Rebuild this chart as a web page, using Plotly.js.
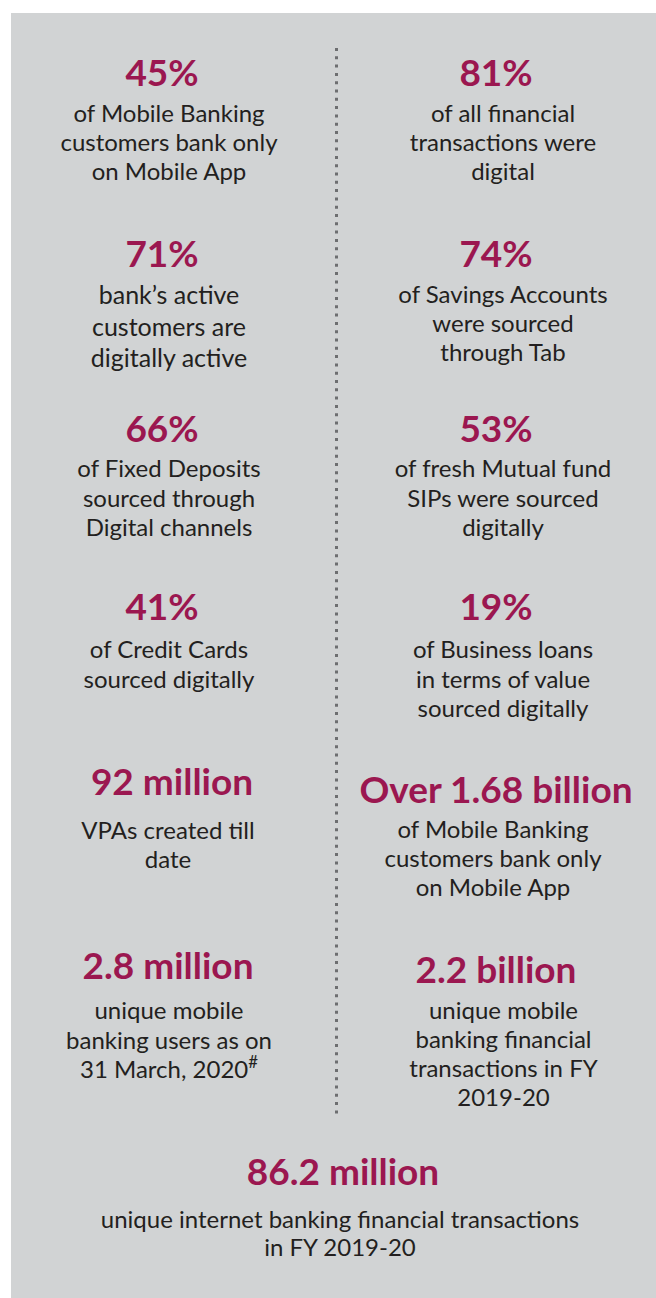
<!DOCTYPE html>
<html>
<head>
<meta charset="utf-8">
<script src="https://cdn.plot.ly/plotly-3.0.1.min.js"></script>
<style>
  html, body { margin: 0; padding: 0; background: #fff; }
  #chart { width: 656px; height: 1298px; }
</style>
</head>
<body>
<div id="chart"></div>
<script>
// headline figures and their notes (one entry per printed line)
const leftFigures = ['45%', '71%', '66%', '41%', '92 million', '2.8 million'];
const leftNotes = [
  ['of Mobile Banking', 'customers bank only', 'on Mobile App'],
  ['bank’s active', 'customers are', 'digitally active'],
  ['of Fixed Deposits', 'sourced through', 'Digital channels'],
  ['of Credit Cards', 'sourced digitally'],
  ['VPAs created till', 'date'],
  ['unique mobile', 'banking users as on', '31 March, 2020<sup>#</sup>']
];
const rightFigures = ['81%', '74%', '53%', '19%', 'Over 1.68 billion', '2.2 billion'];
const rightNotes = [
  ['of all financial', 'transactions were', 'digital'],
  ['of Savings Accounts', 'were sourced', 'through Tab'],
  ['of fresh Mutual fund', 'SIPs were sourced', 'digitally'],
  ['of Business loans', 'in terms of value', 'sourced digitally'],
  ['of Mobile Banking', 'customers bank only', 'on Mobile App'],
  ['unique mobile', 'banking financial', 'transactions in FY', '2019-20']
];
const footFigure = '86.2 million';
const footNote = ['unique internet banking financial transactions', 'in FY 2019-20'];

// layout: pixel positions of each block
const W = 656, H = 1298;
const leftFigX = [162, 162, 162, 162, 172, 168];
const leftFigY = [77, 258, 433, 611, 786, 970];
const leftNoteX = [169, 169, 169, 169, 168, 169];
const leftNoteY = [116, 298, 471, 652, 833, 1013];
const leftGap = [29, 31.5, 29.5, 30, 29, 29.5];
const leftSize = [24, 25, 24, 24, 24, 24];

const rightFigX = [496, 496, 496, 496, 496, 496];
const rightFigY = [77, 258, 433, 611, 794, 974];
const rightNoteX = [503, 503, 503, 503, 493, 503.5];
const rightNoteY = [116, 297, 471, 652, 832, 1013];
const rightGap = [29, 29, 29.5, 29.5, 29, 29];

const footFigX = 343, footFigY = 1176;
const footNoteX = 340, footNoteY = 1222, footGap = 28;

const crimson = '#9b1750';
const ink = '#231f20';
const fam = 'Lato, "Open Sans", sans-serif';

const figures = {
  type: 'scatter', mode: 'text', hoverinfo: 'skip',
  x: leftFigX.concat(rightFigX, [footFigX]),
  y: leftFigY.concat(rightFigY, [footFigY]),
  text: leftFigures.concat(rightFigures, [footFigure]),
  textposition: 'middle center',
  textfont: { family: fam, size: 37, color: crimson, weight: 700 }
};

// expand note lines into individual text points
const nx = [], ny = [], nt = [], ns = [];
function addBlock(lines, x, y0, gap, size) {
  lines.forEach((line, i) => {
    nx.push(x); ny.push(y0 + i * gap); nt.push(line); ns.push(size);
  });
}
leftNotes.forEach((l, i) => addBlock(l, leftNoteX[i], leftNoteY[i], leftGap[i], leftSize[i]));
rightNotes.forEach((l, i) => addBlock(l, rightNoteX[i], rightNoteY[i], rightGap[i], 24));
addBlock(footNote, footNoteX, footNoteY, footGap, 24);

const notes = {
  type: 'scatter', mode: 'text', hoverinfo: 'skip',
  x: nx, y: ny, text: nt,
  textposition: 'middle center',
  textfont: { family: fam, size: ns, color: ink }
};

// dotted divider between the two columns
const divider = {
  type: 'scatter', mode: 'lines', hoverinfo: 'skip',
  x: [336.5, 336.5], y: [48, 1118],
  line: { color: '#6d6e70', width: 3, dash: '3px,5.3px' }
};

const layout = {
  width: W, height: H,
  margin: { l: 0, r: 0, t: 0, b: 0 },
  paper_bgcolor: '#ffffff',
  plot_bgcolor: '#ffffff',
  showlegend: false,
  xaxis: { range: [0, W], visible: false, fixedrange: true },
  yaxis: { range: [H, 0], visible: false, fixedrange: true },
  shapes: [{
    type: 'rect', layer: 'below', xref: 'x', yref: 'y',
    x0: 11, x1: W, y0: 13, y1: H,
    fillcolor: '#d1d3d4', line: { width: 0 }
  }]
};

Plotly.newPlot('chart', [divider, figures, notes], layout, { displayModeBar: false, staticPlot: true });
</script>
</body>
</html>
